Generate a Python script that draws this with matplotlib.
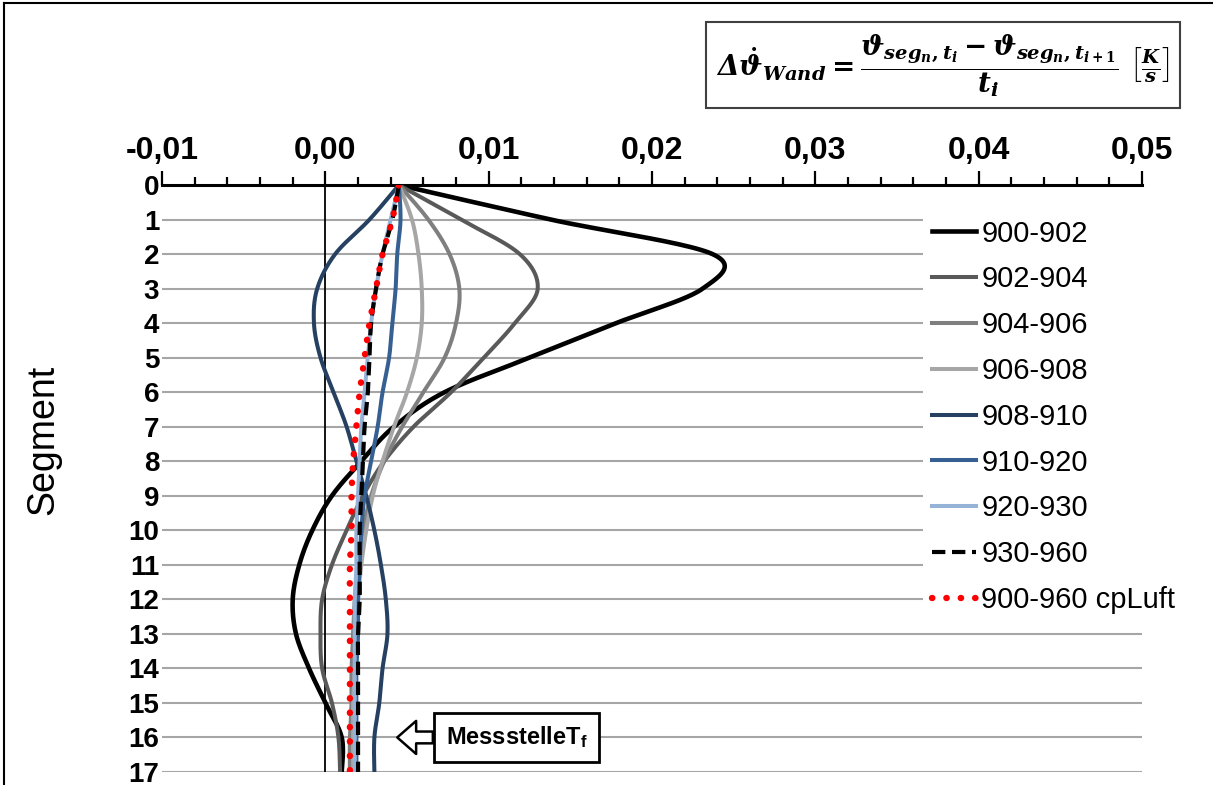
import numpy as np
import matplotlib
matplotlib.use('Agg')
import matplotlib.pyplot as plt
from matplotlib.lines import Line2D

plt.rcParams['font.family'] = ['Liberation Sans', 'DejaVu Sans']
plt.rcParams['mathtext.fontset'] = 'custom'
plt.rcParams['mathtext.rm'] = 'DejaVu Serif:bold'
plt.rcParams['mathtext.it'] = 'DejaVu Serif:italic:bold'
plt.rcParams['mathtext.bf'] = 'DejaVu Serif:italic:bold'
plt.rcParams['mathtext.sf'] = 'Liberation Sans:bold'

# wall temperature change rate per segment [K/s]
segments = np.arange(18)

s900_902 = [0.0045, 0.0138, 0.0237, 0.0231, 0.0178, 0.0125, 0.0073, 0.0042, 0.0022,
            0.0004, -0.0008, -0.0016, -0.0020, -0.0018, -0.0010, 0.0000, 0.0010, 0.0010]
s902_904 = [0.0045, 0.0083, 0.0119, 0.0130, 0.0116, 0.0097, 0.0077, 0.0054, 0.0036,
            0.0023, 0.0013, 0.0004, -0.0002, -0.0003, -0.0002, 0.0004, 0.0008, 0.0009]
s904_906 = [0.0045, 0.0063, 0.0076, 0.0082, 0.0080, 0.0073, 0.0060, 0.0047, 0.0036,
            0.0028, 0.0023, 0.0020, 0.0018, 0.0017, 0.0016, 0.0016, 0.0015, 0.0015]
s906_908 = [0.0045, 0.0053, 0.0057, 0.0059, 0.0059, 0.0056, 0.0050, 0.0042, 0.0035,
            0.0029, 0.0025, 0.0022, 0.0020, 0.0019, 0.0018, 0.0017, 0.0017, 0.0017]
s908_910 = [0.0045, 0.0027, 0.0006, -0.0005, -0.0007, -0.0003, 0.0005, 0.0013, 0.0019,
            0.0025, 0.0030, 0.0034, 0.0037, 0.0038, 0.0035, 0.0033, 0.0030, 0.0030]
s910_920 = [0.0045, 0.0046, 0.0044, 0.0043, 0.0041, 0.0039, 0.0035, 0.0032, 0.0028,
            0.0024, 0.0022, 0.0021, 0.0020, 0.0020, 0.0019, 0.0019, 0.0019, 0.0019]
s920_930 = [0.0045, 0.0040, 0.0035, 0.0031, 0.0028, 0.0026, 0.0024, 0.0022, 0.0021,
            0.0020, 0.0019, 0.0019, 0.0018, 0.0018, 0.0018, 0.0018, 0.0018, 0.0018]
s930_960 = [0.0045, 0.0041, 0.0035, 0.0031, 0.0028, 0.0027, 0.0026, 0.0024, 0.0023,
            0.0022, 0.0021, 0.0021, 0.0021, 0.0020, 0.0020, 0.0020, 0.0020, 0.0020]
s900_960_cp = [0.0045, 0.0041, 0.0035, 0.0031, 0.0027, 0.0024, 0.0021, 0.0019, 0.0017,
               0.0016, 0.0016, 0.0015, 0.0015, 0.0015, 0.0015, 0.0015, 0.0015, 0.0015]

labels = ['900-902', '902-904', '904-906', '906-908', '908-910',
          '910-920', '920-930', '930-960', '900-960 cpLuft']
xticks = [-0.01, 0.0, 0.01, 0.02, 0.03, 0.04, 0.05]
xticklabels = ['-0,01', '0,00', '0,01', '0,02', '0,03', '0,04', '0,05']


def smooth(seg, val, n=24):
    # catmull-rom through the points, like the smoothed lines in excel
    p = np.column_stack([val, seg]).astype(float)
    q = np.vstack([p[0], p, p[-1]])
    t = np.linspace(0, 1, n, endpoint=False)[:, None]
    out = []
    for i in range(len(p) - 1):
        p0, p1, p2, p3 = q[i], q[i + 1], q[i + 2], q[i + 3]
        c1 = p1 + (p2 - p0) / 6
        c2 = p2 - (p3 - p1) / 6
        out.append((1 - t)**3 * p1 + 3 * (1 - t)**2 * t * c1 + 3 * (1 - t) * t**2 * c2 + t**3 * p2)
    out.append(p[-1:])
    out = np.vstack(out)
    return out[:, 0], out[:, 1]


fig = plt.figure(figsize=(12.13, 7.85), dpi=100)
ax = fig.add_axes([0.1336, 0.0166, 0.8079, 0.7477])

styles = [
    dict(color='#000000', lw=3.3),
    dict(color='#595959', lw=2.9),
    dict(color='#7f7f7f', lw=2.9),
    dict(color='#a6a6a6', lw=2.9),
    dict(color='#254061', lw=2.9),
    dict(color='#376092', lw=2.9),
    dict(color='#95b3d7', lw=2.9),
    dict(color='#000000', lw=3.0, dashes=(3.2, 1.6)),
    dict(color='#ff0000', lw=4.6, dashes=(0.05, 2.2), dash_capstyle='round'),
]
data = [s900_902, s902_904, s904_906, s906_908, s908_910,
        s910_920, s920_930, s930_960, s900_960_cp]

for vals, lab, st in zip(data, labels, styles):
    xs, ys = smooth(segments, vals)
    ax.plot(xs, ys, label=lab, zorder=3, **st)

ax.axvline(0, color='black', lw=1.3, zorder=2)

ax.set_xlim(-0.01, 0.05)
ax.set_ylim(17, 0)

# x axis on top
ax.xaxis.tick_top()
ax.set_xticks(xticks)
ax.set_xticklabels(xticklabels, fontsize=23, fontweight='bold')
ax.set_xticks(np.arange(-0.01, 0.0501, 0.002), minor=True)
ax.tick_params(axis='x', which='major', direction='out', length=10, width=1.6, pad=4)
ax.tick_params(axis='x', which='minor', direction='out', length=6, width=1.6, top=True)
ax.spines['top'].set_linewidth(2.2)
for s in ['left', 'right', 'bottom']:
    ax.spines[s].set_visible(False)

ax.set_yticks(segments)
ax.set_yticklabels([str(s) for s in segments], fontsize=20, fontweight='bold')
ax.tick_params(axis='y', length=0, pad=2)
ax.yaxis.grid(True, color='#a6a6a6', lw=1.5, zorder=0)
ax.set_axisbelow(True)
ax.set_ylabel('Segment', fontsize=27)
ax.yaxis.set_label_coords(-0.103, 0.566)

leg = ax.legend(loc='upper left', bbox_to_anchor=(0.749, 0.750), bbox_transform=fig.transFigure,
                fontsize=21, frameon=True, fancybox=False, edgecolor='none', framealpha=1,
                handlelength=1.5, handletextpad=0.2, labelspacing=0.61, borderpad=0.3)

ax.annotate(r'Messstelle$\mathsf{T}_{\mathsf{f}}$', xy=(0.0044, 16), xytext=(0.0117, 16),
            fontsize=17, fontweight='bold', ha='center', va='center', zorder=5,
            bbox=dict(boxstyle='square,pad=0.5', fc='white', ec='black', lw=2),
            arrowprops=dict(arrowstyle='simple,head_length=0.8,head_width=1.4,tail_width=0.5',
                            fc='white', ec='black', lw=1.8, shrinkA=0, shrinkB=0))

fig.text(0.7774, 0.917,
         r'$\mathbf{\Delta}\dot{\vartheta}_{Wand} = \dfrac{\vartheta_{seg_n,t_i} - \vartheta_{seg_n,t_{i+1}}}{t_i}\ \left[\frac{K}{s}\right]$',
         fontsize=20, ha='center', va='center',
         bbox=dict(boxstyle='square,pad=0.35', fc='white', ec='#404040', lw=1.5))

# outer frame
fig.add_artist(Line2D([0.003, 0.003], [0, 0.996], transform=fig.transFigure, color='black', lw=1.5))
fig.add_artist(Line2D([0.003, 1], [0.996, 0.996], transform=fig.transFigure, color='black', lw=1.5))

fig.savefig('out.png', dpi=100)
